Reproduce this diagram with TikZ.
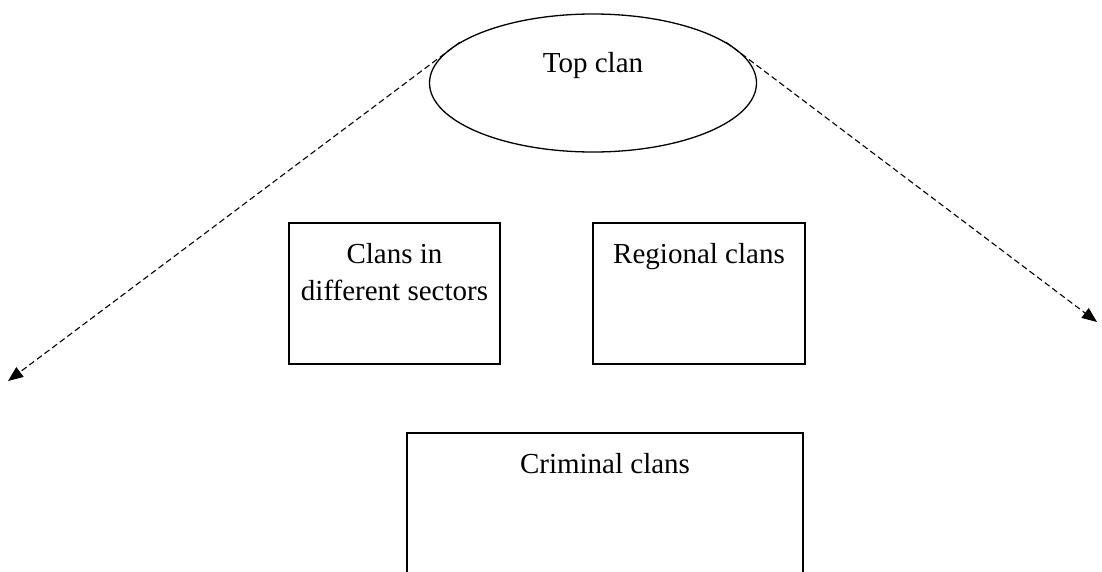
\documentclass[tikz,border=0pt]{standalone}
\usepackage{fontspec}
\setmainfont{Liberation Serif}
\usetikzlibrary{arrows.meta,shapes.geometric}
\begin{document}
\begin{tikzpicture}[x=1pt,y=-1pt,
  every node/.style={font=\fontsize{29}{37}\selectfont},
  conn/.style={dash pattern=on 6pt off 3.5pt,line width=1.1pt,-{Stealth[length=15pt,width=12pt,inset=0pt]}}]
\useasboundingbox (0,0) rectangle (1102,571);
\clip (0,0) rectangle (1102,571);
% ellipse
\node[draw,ellipse,line width=1.3pt,minimum width=327pt,minimum height=138pt] (top) at (593,83) {};
\node[anchor=base] (toptext) at (593,72) {Top clan};
% boxes
\node[draw,line width=1.3pt,minimum width=211pt,minimum height=141pt,inner sep=0pt] (b1) at (394.5,293.5) {};
\node[anchor=base,align=center] (b1text) at (394.5,300) {Clans in\\different sectors};
\node[draw,line width=1.3pt,minimum width=212pt,minimum height=141pt,inner sep=0pt] (b2) at (699,293.5) {};
\node[anchor=base] (b2text) at (699,263) {Regional clans};
\draw[line width=1.3pt] (407,590) -- (407,433) -- (803,433) -- (803,590);
\node[anchor=base] (crtext) at (605,473) {Criminal clans};
% connectors
\coordinate (ltip) at (8,381);
\coordinate (rtip) at (1097,322);
\draw[conn] (top.163) -- (ltip);
\draw[conn] (top.17) -- (rtip);
\end{tikzpicture}
\end{document}
